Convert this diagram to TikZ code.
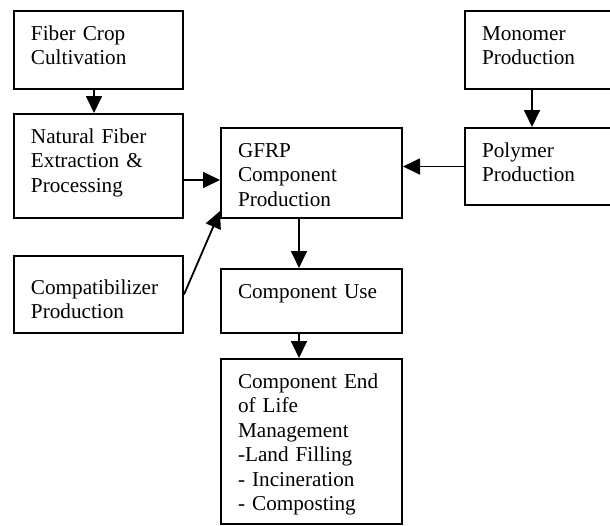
\documentclass[tikz,border=0pt]{standalone}
\usepackage{fontspec}
\setmainfont{Liberation Serif}
\usepackage{tikz}
\usetikzlibrary{arrows.meta,positioning}

\tikzset{
  procbox/.style={draw, line width=1pt, anchor=north west, align=left,
    inner xsep=8.5pt, inner ysep=0pt, text height=14.5pt,
    font=\fontsize{10.6pt}{12.25pt}\selectfont},
  flow/.style={line width=0.9pt, -{Triangle[length=8.5pt,width=8pt]}}
}

\begin{document}
\begin{tikzpicture}[x=0.5pt,y=-0.5pt]
\useasboundingbox (0,0) rectangle (610,525);
\node (crop) [procbox, text width=67.5pt, text depth=24.5pt] at (13,10) {Fiber Crop\\Cultivation};
\node (fiber) [procbox, text width=67.5pt, text depth=37.5pt] at (13,113) {Natural Fiber\\Extraction \&\\Processing};
\node (compat) [procbox, text width=67.5pt, text height=19pt, text depth=19.5pt] at (13,255) {Compatibilizer\\Production};
\node (gfrp) [procbox, text width=73.5pt, text depth=30.5pt] at (220,127) {GFRP\\Component\\Production};
\node (use) [procbox, text width=73.5pt, text depth=17.5pt] at (220,268) {Component Use};
\node (eol) [procbox, text width=73.5pt, text depth=68pt] at (220,358) {Component End\\of Life\\Management\\-Land Filling\\- Incineration\\- Composting};
\node (monomer) [procbox, text width=58pt, text depth=24.5pt] at (464,10) {Monomer\\Production};
\node (polymer) [procbox, text width=58pt, text depth=24pt] at (464,127) {Polymer\\Production};

\draw[flow] ([xshift=-2.25pt]crop.south) -- ([xshift=-2.25pt]fiber.north);
\draw[flow] ([yshift=-7pt]fiber.east) -- ([yshift=-7pt]fiber.east -| gfrp.west);
\draw[flow] (compat.east) -- ([yshift=4pt]gfrp.south west);
\draw[flow] ([xshift=-4pt]monomer.south) -- ([xshift=-4pt]polymer.north);
\draw[flow] (polymer.west) -- (polymer.west -| gfrp.east);
\draw[flow] ([xshift=-6.25pt]gfrp.south) -- ([xshift=-6.25pt]use.north);
\draw[flow] ([xshift=-6.25pt]use.south) -- ([xshift=-6.25pt]eol.north);
\end{tikzpicture}
\end{document}
